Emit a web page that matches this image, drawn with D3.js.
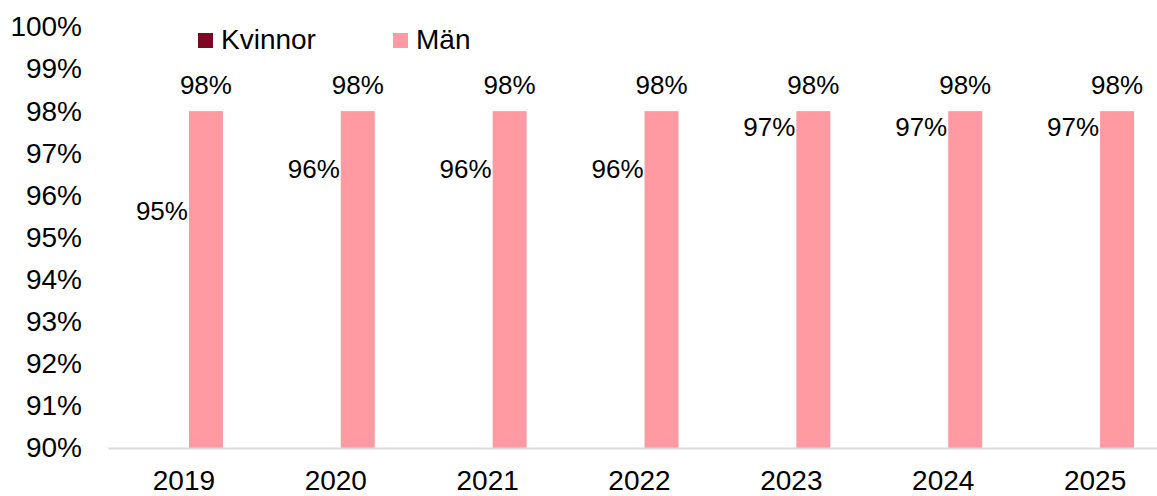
<!DOCTYPE html>
<html lang="sv">
  <head>
    <meta charset="UTF-8" />
    <title>Kvinnor och män</title>
    <style>
      body { margin: 0; background: #fff; }
      svg { display: block; font-family: "Liberation Sans", Arial, sans-serif; }
    </style>
  </head>
  <body>
    <svg id="svg" width="1157" height="496"></svg>

    <script src="https://cdn.jsdelivr.net/npm/d3@7"></script>
    <script>
      const WIDTH = 1157;
      const HEIGHT = 496;

      const YEARS = ["2019", "2020", "2021", "2022", "2023", "2024", "2025"];
      const SERIES = ["Kvinnor", "Män"];
      const KVINNOR = [95, 96, 96, 96, 97, 97, 97];
      const MAN = [98, 98, 98, 98, 98, 98, 98];
      const Y_TICKS = [90, 91, 92, 93, 94, 95, 96, 97, 98, 99, 100];

      // Kvinnor bars are invisible in the original, only their labels show
      const COLORS = { Kvinnor: "#7a0a24", "Män": "#ff9aa2" };
      const BAR_FILL = { Kvinnor: "#ffffff", "Män": "#ff9aa2" };

      const rows = YEARS.map((year, i) => ({
        year,
        values: [
          { key: "Kvinnor", value: KVINNOR[i] },
          { key: "Män", value: MAN[i] },
        ],
      }));

      const svg = d3.select("#svg");

      const xScale = d3.scaleBand().domain(YEARS).range([108, 1171]);
      const bw = xScale.bandwidth();
      const subScale = d3
        .scaleBand()
        .domain(SERIES)
        .range([bw / 2 - 44, bw / 2 + 44])
        .paddingInner(10 / 44)
        .paddingOuter(5 / 44);

      const yScale = d3.scaleLinear().domain([90, 100]).range([448, 26.9]);

      // y axis labels
      const leftAxis = d3
        .axisLeft(yScale)
        .tickValues(Y_TICKS)
        .tickSize(0)
        .tickPadding(26)
        .tickFormat((d) => d + "%");

      svg
        .append("g")
        .attr("transform", "translate(108, 0)")
        .call(leftAxis)
        .call((g) => g.select(".domain").remove())
        .selectAll("text")
        .attr("font-size", 28)
        .attr("font-family", "Liberation Sans, Arial, sans-serif")
        .attr("fill", "#000");

      // bars
      const groups = svg
        .append("g")
        .selectAll("g")
        .data(rows)
        .join("g")
        .attr("transform", (d) => `translate(${xScale(d.year)}, 0)`);

      groups
        .selectAll("rect")
        .data((d) => d.values)
        .join("rect")
        .attr("x", (d) => subScale(d.key))
        .attr("width", subScale.bandwidth())
        .attr("y", (d) => yScale(d.value))
        .attr("height", (d) => yScale(90) - yScale(d.value))
        .attr("fill", (d) => BAR_FILL[d.key]);

      groups
        .selectAll("text")
        .data((d) => d.values)
        .join("text")
        .attr("x", (d) => subScale(d.key) + subScale.bandwidth() / 2)
        .attr("y", (d) => yScale(d.value) - 17)
        .attr("text-anchor", "middle")
        .attr("font-size", 26)
        .attr("fill", "#000")
        .text((d) => d.value + "%");

      // x axis
      const bottomAxis = d3.axisBottom(xScale).tickSize(0).tickPadding(22);
      svg
        .append("g")
        .attr("transform", "translate(0, 448)")
        .call(bottomAxis)
        .call((g) =>
          g.select(".domain").attr("stroke", "#d9d9d9").attr("stroke-width", 2)
        )
        .selectAll("text")
        .attr("font-size", 28)
        .attr("font-family", "Liberation Sans, Arial, sans-serif")
        .attr("fill", "#000");

      // legend
      const legend = svg
        .append("g")
        .selectAll("g")
        .data(SERIES)
        .join("g")
        .attr("transform", (d, i) => `translate(${198 + i * 195}, 33)`);

      legend
        .append("rect")
        .attr("width", 15)
        .attr("height", 15)
        .attr("fill", (d) => COLORS[d]);

      legend
        .append("text")
        .attr("x", 23)
        .attr("y", 16)
        .attr("font-size", 28)
        .attr("fill", "#000")
        .text((d) => d);
    </script>
  </body>
</html>
